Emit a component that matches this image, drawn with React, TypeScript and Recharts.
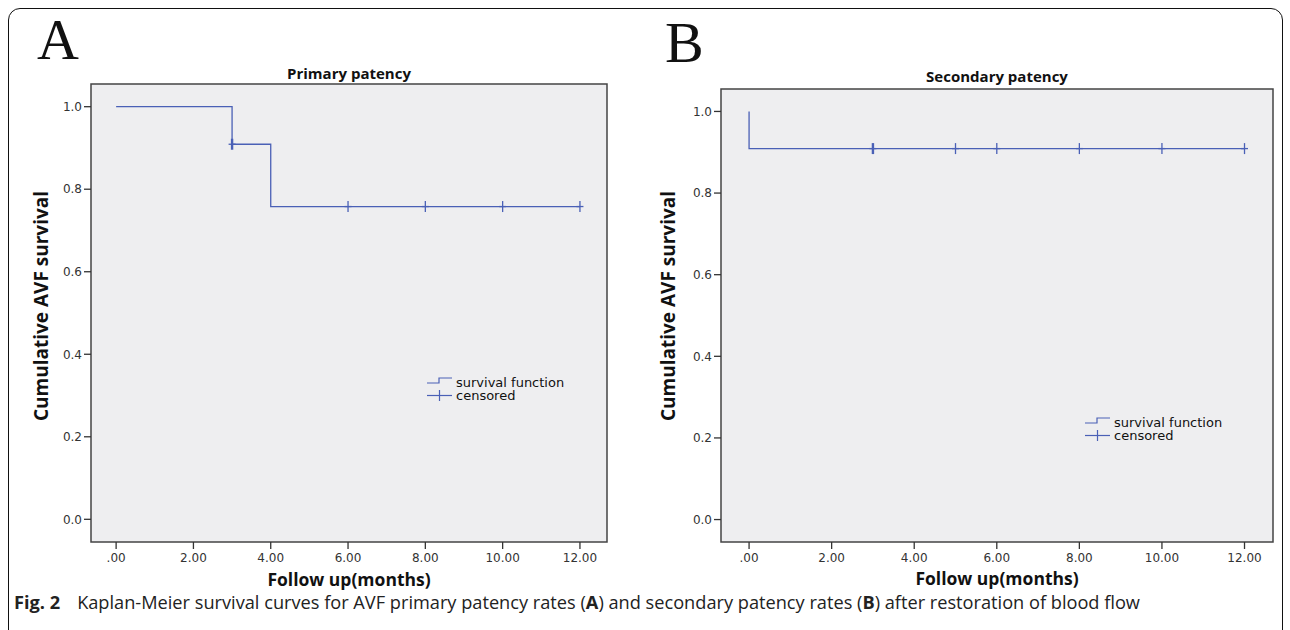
import React from 'react';
import { ComposedChart, Line, Scatter, XAxis, YAxis, ReferenceArea, Legend } from 'recharts';

// ---- data ----
const monthTicks = [0, 2, 4, 6, 8, 10, 12];
const survivalTicks = [0, 0.2, 0.4, 0.6, 0.8, 1.0];

const primaryTimes = [0, 3, 4, 12];
const primarySurvival = [1.0, 0.909, 0.758, 0.758];
const primaryCensorTimes = [3, 6, 8, 10, 12];
const primaryCensorSurvival = [0.909, 0.758, 0.758, 0.758, 0.758];
const primaryCensorCounts = [2, 1, 1, 1, 1];

const secondaryTimes = [0, 0, 12];
const secondarySurvival = [1.0, 0.909, 0.909];
const secondaryCensorTimes = [3, 5, 6, 8, 10, 12];
const secondaryCensorSurvival = [0.909, 0.909, 0.909, 0.909, 0.909, 0.909];
const secondaryCensorCounts = [2, 1, 1, 1, 1, 1];

const legendLabels = ['survival function', 'censored'];

const BLUE = '#4a60b6';
const PLOT_BG = '#eeeef0';
const TICK_FONT = 'DejaVu Sans, Verdana, sans-serif';
const TITLE_FONT = '"Open Sans", "Noto Sans", sans-serif';

const zip = (t: number[], s: number[], c?: number[]) =>
  t.map((v, i) => ({ t: v, s: s[i], c: c ? c[i] : 1 }));

const fmtX = (v: number) => (v === 0 ? '.00' : v.toFixed(2));
const fmtY = (v: number) => v.toFixed(1);

const CensorMark = (props: any) => {
  const { cx, cy, payload } = props;
  const w = payload && payload.c > 1 ? 2.4 : 1.3;
  return (
    <g stroke={BLUE} strokeWidth={w}>
      <line x1={cx} x2={cx} y1={cy - 5.5} y2={cy + 5.5} />
      <line x1={cx - 3.5} x2={cx + 3.5} y1={cy} y2={cy} strokeWidth={1.3} />
    </g>
  );
};

const LegendBox = () => (
  <svg width={150} height={30} style={{ display: 'block', overflow: 'visible' }}>
    <path d="M0,8 H12 V3 H25" fill="none" stroke={BLUE} strokeWidth={1.2} />
    <text x={29} y={12} fontSize={13} fontFamily={TICK_FONT} fill="#111">{legendLabels[0]}</text>
    <line x1={0} x2={25} y1={20.5} y2={20.5} stroke={BLUE} strokeWidth={1.2} />
    <line x1={12.5} x2={12.5} y1={15} y2={26} stroke={BLUE} strokeWidth={1.2} />
    <text x={29} y={25} fontSize={13} fontFamily={TICK_FONT} fill="#111">{legendLabels[1]}</text>
  </svg>
);

type PanelProps = {
  width: number;
  height: number;
  margin: { top: number; right: number; bottom: number; left: number };
  xDomain: [number, number];
  yDomain: [number, number];
  curve: { t: number; s: number; c: number }[];
  censors: { t: number; s: number; c: number }[];
  legendPos: { left: number; top: number };
};

const Panel = ({ width, height, margin, xDomain, yDomain, curve, censors, legendPos }: PanelProps) => (
  <ComposedChart width={width} height={height} margin={margin}>
    <XAxis
      type="number"
      dataKey="t"
      domain={xDomain}
      ticks={monthTicks}
      tickFormatter={fmtX}
      allowDataOverflow
      height={40}
      tickSize={7}
      tickMargin={4}
      axisLine={false}
      tickLine={{ stroke: '#333', strokeWidth: 1.3 }}
      tick={{ fill: '#333', fontSize: 12, fontFamily: TICK_FONT }}
    />
    <YAxis
      type="number"
      dataKey="s"
      domain={yDomain}
      ticks={survivalTicks}
      tickFormatter={fmtY}
      allowDataOverflow
      width={40}
      tickSize={7}
      tickMargin={2}
      axisLine={false}
      tickLine={{ stroke: '#333', strokeWidth: 1.3 }}
      tick={{ fill: '#333', fontSize: 12, fontFamily: TICK_FONT }}
    />
    <ReferenceArea
      x1={xDomain[0]}
      x2={xDomain[1]}
      y1={yDomain[0]}
      y2={yDomain[1]}
      fill={PLOT_BG}
      fillOpacity={1}
      stroke="#444"
      strokeWidth={1.5}
      ifOverflow="visible"
    />
    <Line
      data={curve}
      dataKey="s"
      type="stepAfter"
      stroke={BLUE}
      strokeWidth={1.3}
      dot={false}
      activeDot={false}
      isAnimationActive={false}
    />
    <Scatter data={censors} dataKey="s" shape={<CensorMark />} isAnimationActive={false} />
    <Legend
      layout="horizontal"
      verticalAlign="middle"
      align="center"
      content={<LegendBox />}
      wrapperStyle={{ left: legendPos.left, top: legendPos.top, width: 150, height: 30 }}
    />
  </ComposedChart>
);

const abs = (s: React.CSSProperties): React.CSSProperties => ({ position: 'absolute', whiteSpace: 'nowrap', ...s });

export default function App() {
  const primaryCurve = zip(primaryTimes, primarySurvival);
  const primaryCens = zip(primaryCensorTimes, primaryCensorSurvival, primaryCensorCounts);
  const secondaryCurve = zip(secondaryTimes, secondarySurvival);
  const secondaryCens = zip(secondaryCensorTimes, secondaryCensorSurvival, secondaryCensorCounts);

  const bold: React.CSSProperties = {
    fontFamily: TITLE_FONT,
    fontWeight: 700,
    color: '#111',
  };
  const titleStyle: React.CSSProperties = { ...bold, fontSize: 15, lineHeight: '16px', transform: 'translateX(-50%)' };
  const xTitleStyle: React.CSSProperties = { ...bold, fontSize: 17.5, lineHeight: '14px', transform: 'translateX(-50%)' };
  const yTitleStyle: React.CSSProperties = {
    ...bold,
    fontSize: 19,
    lineHeight: '20px',
    transform: 'translate(-50%, -50%) rotate(-90deg)',
  };
  const letterStyle: React.CSSProperties = {
    fontFamily: '"Liberation Serif", "DejaVu Serif", serif',
    fontSize: 58,
    lineHeight: '58px',
    color: '#111',
  };

  return (
    <div style={{ position: 'absolute', left: 0, top: 0, width: 1290, height: 630, overflow: 'hidden', background: '#fff' }}>
      {/* frame */}
      <div style={abs({ left: 8, top: 8, width: 1273, height: 700, border: '1.5px solid #111', borderRadius: 12 })} />

      {/* panel A */}
      <div style={abs({ left: 0, top: 0 })}>
        <Panel
          width={640}
          height={630}
          margin={{ top: 84, right: 33, bottom: 48, left: 51 }}
          xDomain={[-0.65, 12.7]}
          yDomain={[-0.055, 1.055]}
          curve={primaryCurve}
          censors={primaryCens}
          legendPos={{ left: 427, top: 375 }}
        />
      </div>
      {/* panel B */}
      <div style={abs({ left: 640, top: 0 })}>
        <Panel
          width={650}
          height={630}
          margin={{ top: 89, right: 17, bottom: 48, left: 41 }}
          xDomain={[-0.68, 12.69]}
          yDomain={[-0.055, 1.055]}
          curve={secondaryCurve}
          censors={secondaryCens}
          legendPos={{ left: 445, top: 415 }}
        />
      </div>

      {/* panel letters */}
      <div style={abs({ left: 37, top: 11, ...letterStyle })}>A</div>
      <div style={abs({ left: 665, top: 14, ...letterStyle })}>B</div>

      {/* titles */}
      <div style={abs({ left: 349, top: 65, ...titleStyle })}>Primary patency</div>
      <div style={abs({ left: 997, top: 68, ...titleStyle })}>Secondary patency</div>

      {/* x-axis titles */}
      <div style={abs({ left: 349, top: 572, ...xTitleStyle })}>Follow up(months)</div>
      <div style={abs({ left: 997, top: 571, ...xTitleStyle })}>Follow up(months)</div>

      {/* y-axis titles */}
      <div style={abs({ left: 41, top: 306, ...yTitleStyle })}>Cumulative AVF survival</div>
      <div style={abs({ left: 668, top: 306, ...yTitleStyle })}>Cumulative AVF survival</div>

      {/* caption */}
      <div style={abs({ left: 14, top: 595, fontFamily: TITLE_FONT, fontSize: 18.2, color: '#222', lineHeight: '14px' })}>
        <b>Fig. 2</b>
        <span style={{ marginLeft: 17 }}>
          Kaplan-Meier survival curves for AVF primary patency rates (<b>A</b>) and secondary patency rates (<b>B</b>) after restoration of blood flow
        </span>
      </div>
    </div>
  );
}
